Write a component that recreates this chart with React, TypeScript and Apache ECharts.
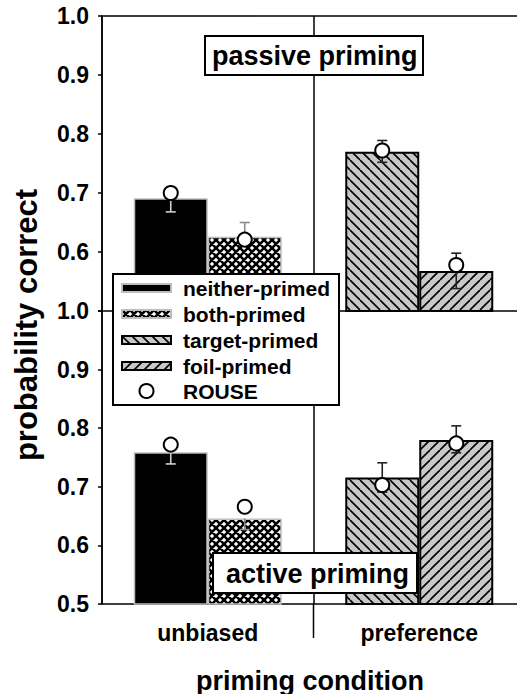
import React, { useEffect, useRef } from "react";
import * as echarts from "echarts";

// ---------- data ----------
const categories = ["unbiased", "preference"];
const seriesNames = ["neither-primed", "both-primed", "target-primed", "foil-primed"];
// index 0 = passive priming (top panel), 1 = active priming (bottom panel)
const neitherPrimed = [0.691, 0.759];
const bothPrimed = [0.626, 0.646];
const targetPrimed = [0.770, 0.716];
const foilPrimed = [0.568, 0.780];
// ROUSE model predictions [neither, both, target, foil]
const rousePassive = [0.700, 0.621, 0.772, 0.578];
const rouseActive = [0.772, 0.666, 0.703, 0.774];
// error bar extents [low, high] for [neither, both, target, foil]
const errPassive = [[0.668, 0.691], [0.626, 0.650], [0.752, 0.789], [0.538, 0.598]];
const errActive = [[0.739, 0.759], [0.627, 0.646], [0.691, 0.741], [0.758, 0.804]];
const yTicks = [0.5, 0.6, 0.7, 0.8, 0.9, 1.0];
const panelLabels = ["passive priming", "active priming"];

// ---------- styles ----------
const FONT = "Liberation Sans, Arial, Helvetica, sans-serif";
const BAR_W = 74;
const barCat = [0, 0, 1, 1];
const barSide = [-1, 1, -1, 1];
const errColors = ["#cfcfcf", "#8a8a8a", "#222", "#222"];

function makeHatch(kind: "back" | "fwd" | "cross"): HTMLCanvasElement {
  const s = kind === "cross" ? 8 : 10;
  const c = document.createElement("canvas");
  c.width = s;
  c.height = s;
  const g = c.getContext("2d")!;
  g.fillStyle = kind === "cross" ? "#ffffff" : "#c8c8c8";
  g.fillRect(0, 0, s, s);
  g.strokeStyle = "#000";
  g.lineWidth = kind === "cross" ? 2.6 : 1.6;
  g.beginPath();
  for (const k of [-1, 0, 1]) {
    if (kind === "back" || kind === "cross") {
      g.moveTo(k * s, 0);
      g.lineTo(k * s + s, s);
    }
    if (kind === "fwd" || kind === "cross") {
      g.moveTo(k * s + s, 0);
      g.lineTo(k * s, s);
    }
  }
  g.stroke();
  return c;
}

export default function App() {
  const ref = useRef<HTMLDivElement>(null);
  useEffect(() => {
    if (!ref.current) return;
    const chart = echarts.init(ref.current, undefined, { renderer: "svg" });

    const crossPat = { image: makeHatch("cross"), repeat: "repeat" };
    const backPat = { image: makeHatch("back"), repeat: "repeat" };
    const fwdPat = { image: makeHatch("fwd"), repeat: "repeat" };
    const barStyles = [
      { color: "#000", borderColor: "#bdbdbd", borderWidth: 1.5 },
      { color: crossPat, borderColor: "#bdbdbd", borderWidth: 1.5 },
      { color: backPat, borderColor: "#000", borderWidth: 2 },
      { color: fwdPat, borderColor: "#000", borderWidth: 2 },
    ];
    const values = [neitherPrimed, bothPrimed, targetPrimed, foilPrimed];

    const axisLineStyle = { color: "#000", width: 1.5 };
    const tickLabel = { fontFamily: FONT, fontSize: 23, fontWeight: "bold", color: "#000" };

    const series: any[] = [];
    [0, 1].forEach((p) => {
      const xIdx = p === 0 ? 0 : 2;
      values.forEach((arr, i) => {
        const d: any[] = ["-", "-"];
        d[barCat[i]] = arr[p];
        series.push({
          type: "bar",
          name: seriesNames[i],
          xAxisIndex: xIdx,
          yAxisIndex: p,
          stack: (barSide[i] < 0 ? "L" : "R") + p,
          barWidth: BAR_W,
          barGap: "0%",
          data: d,
          itemStyle: barStyles[i],
          z: 2,
        });
      });
      const errs = p === 0 ? errPassive : errActive;
      series.push({
        type: "custom",
        name: "err" + p,
        xAxisIndex: xIdx,
        yAxisIndex: p,
        z: 3,
        silent: true,
        data: errs.map((e, i) => [barCat[i], barSide[i], e[0], e[1], values[i][p], i]),
        renderItem: (params: any, api: any) => {
          const cat = api.value(0);
          const side = api.value(1);
          const lo = api.value(2);
          const hi = api.value(3);
          const bar = api.value(4);
          const idx = api.value(5);
          const pLo = api.coord([cat, lo]);
          const pHi = api.coord([cat, hi]);
          const x = pLo[0] + (side * BAR_W) / 2;
          const st = { stroke: errColors[idx], lineWidth: 1.6 };
          const children: any[] = [
            { type: "line", shape: { x1: x, y1: pLo[1], x2: x, y2: pHi[1] }, style: st },
          ];
          if (lo < bar - 1e-6)
            children.push({ type: "line", shape: { x1: x - 5, y1: pLo[1], x2: x + 5, y2: pLo[1] }, style: st });
          if (hi > bar + 1e-6)
            children.push({ type: "line", shape: { x1: x - 5, y1: pHi[1], x2: x + 5, y2: pHi[1] }, style: st });
          return { type: "group", children };
        },
      });
      const rouse = p === 0 ? rousePassive : rouseActive;
      series.push({
        type: "scatter",
        name: "ROUSE",
        xAxisIndex: xIdx,
        yAxisIndex: p,
        z: 4,
        symbol: "circle",
        symbolSize: 14,
        itemStyle: { color: "#fff", borderColor: "#000", borderWidth: 2, opacity: 1 },
        data: rouse.map((v, i) => ({
          value: [barCat[i], v],
          symbolOffset: [(barSide[i] * BAR_W) / 2, 0],
        })),
      });
    });

    // divider extension below the bottom axis, between the two categories
    series.push({
      type: "custom",
      name: "divider",
      xAxisIndex: 2,
      yAxisIndex: 1,
      silent: true,
      z: 1,
      data: [[0, yTicks[0]]],
      renderItem: (params: any, api: any) => {
        const a = api.coord([0, yTicks[0]]);
        const b = api.coord([1, yTicks[0]]);
        const x = (a[0] + b[0]) / 2;
        return {
          type: "line",
          shape: { x1: x, y1: a[1], x2: x, y2: a[1] + 34 },
          style: { stroke: "#000", lineWidth: 1.5 },
        };
      },
    });

    const yAxisBase = (p: number) => ({
      gridIndex: p,
      type: "value",
      min: yTicks[0],
      max: yTicks[yTicks.length - 1],
      interval: 0.1,
      axisLine: { show: true, lineStyle: axisLineStyle },
      axisTick: { show: true, length: 4, lineStyle: axisLineStyle },
      splitLine: { show: false },
      axisLabel: {
        ...tickLabel,
        margin: 13,
        formatter: (v: number) => (p === 0 && v < 0.55 ? "" : v.toFixed(1)),
      },
    });

    const legendText = { fontFamily: FONT, fontSize: 21, fontWeight: "bold", color: "#000", lineHeight: 21 };

    const option: any = {
      animation: false,
      backgroundColor: "#fff",
      title: [
        {
          text: panelLabels[0],
          left: 205,
          top: 36,
          padding: [6, 6, 6, 7],
          borderColor: "#000",
          borderWidth: 2,
          backgroundColor: "#fff",
          z: 8,
          textStyle: { fontFamily: FONT, fontSize: 27, fontWeight: "bold", color: "#000" },
        },
        {
          text: panelLabels[1],
          left: 213,
          top: 553,
          padding: [7, 8, 6, 13],
          borderColor: "#000",
          borderWidth: 2,
          backgroundColor: "#fff",
          z: 8,
          textStyle: { fontFamily: FONT, fontSize: 27, fontWeight: "bold", color: "#000" },
        },
      ],
      legend: [
        {
          data: seriesNames,
          orient: "vertical",
          left: 113,
          top: 274,
          itemWidth: 49,
          itemHeight: 8,
          itemGap: 5,
          icon: "rect",
          padding: [3.5, 9, 28.5, 8],
          borderColor: "#000",
          borderWidth: 2,
          backgroundColor: "#fff",
          z: 10,
          selectedMode: false,
          textStyle: { ...legendText, padding: [0, 0, 0, 7] },
        },
        {
          data: [{ name: "ROUSE", icon: "circle" }],
          orient: "vertical",
          left: 138.5,
          top: 380.5,
          itemWidth: 14,
          itemHeight: 14,
          padding: 0,
          z: 11,
          selectedMode: false,
          textStyle: { ...legendText, padding: [0, 0, 0, 24.5] },
        },
      ],
      grid: [
        { left: 102, width: 423, top: 16, height: 295, outerBoundsMode: "none", containLabel: false },
        { left: 102, width: 423, top: 311, height: 293, outerBoundsMode: "none", containLabel: false },
      ],
      xAxis: [
        {
          gridIndex: 0,
          type: "category",
          data: categories,
          position: "bottom",
          axisLine: { lineStyle: axisLineStyle },
          axisTick: { show: false },
          axisLabel: { show: false },
          splitLine: { show: true, lineStyle: axisLineStyle },
        },
        {
          gridIndex: 0,
          type: "category",
          data: categories,
          position: "top",
          axisLine: { lineStyle: axisLineStyle },
          axisTick: { show: false },
          axisLabel: { show: false },
          splitLine: { show: false },
        },
        {
          gridIndex: 1,
          type: "category",
          data: categories,
          position: "bottom",
          axisLine: { lineStyle: axisLineStyle },
          axisTick: { show: false },
          axisLabel: { ...tickLabel, margin: 17 },
          splitLine: { show: true, lineStyle: axisLineStyle },
          name: "priming condition",
          nameLocation: "middle",
          nameGap: 63,
          nameTextStyle: {
            fontFamily: FONT,
            fontSize: 27,
            fontWeight: "bold",
            color: "#000",
            padding: [0, 7, 0, 0],
          },
        },
      ],
      yAxis: [yAxisBase(0), yAxisBase(1)],
      graphic: [
        {
          type: "text",
          x: 26,
          y: 325,
          rotation: Math.PI / 2,
          z: 10,
          style: {
            text: "probability correct",
            font: `bold 31px ${FONT}`,
            fill: "#000",
            align: "center",
            verticalAlign: "middle",
          },
        },
      ],
      series,
    };
    chart.setOption(option);
    return () => chart.dispose();
  }, []);
  return (
    <div
      ref={ref}
      style={{ position: "absolute", left: 0, top: 0, width: 517, height: 694 }}
    />
  );
}
